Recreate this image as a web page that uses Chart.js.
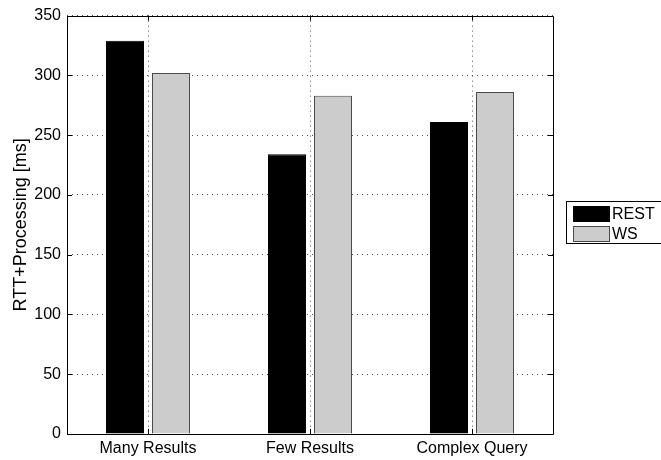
<!DOCTYPE html>
<html>
<head>
<meta charset="utf-8">
<script src="https://cdn.jsdelivr.net/npm/chart.js@4/dist/chart.umd.min.js"></script>
<style>
  html, body { margin: 0; padding: 0; background: #fff; }
  #wrap { width: 661px; height: 460px; }
</style>
</head>
<body>
<div id="wrap"><canvas id="rttChart" width="661" height="460"></canvas></div>
<script>
const categories = ["Many Results", "Few Results", "Complex Query"];
const restValues = [329, 234, 261];
const wsValues = [302, 283, 286];
const yTicks = [0, 50, 100, 150, 200, 250, 300, 350];

const FONT = "'Liberation Sans', Arial, Helvetica, sans-serif";

// box round the plot + matlab style inward ticks on all four sides
const boxTicks = {
    id: "boxTicks",
    afterDraw(chart) {
        const ctx = chart.ctx;
        const a = chart.chartArea;
        const x = chart.scales.x;
        const y = chart.scales.y;
        const len = 5;
        ctx.save();
        ctx.strokeStyle = "#000";
        ctx.lineWidth = 1;
        ctx.beginPath();
        ctx.rect(Math.round(a.left) + 0.5, Math.round(a.top) + 0.5,
            Math.round(a.right - a.left), Math.round(a.bottom - a.top));
        ctx.stroke();
        ctx.beginPath();
        yTicks.forEach(v => {
            const py = Math.round(y.getPixelForValue(v)) + 0.5;
            ctx.moveTo(a.left, py); ctx.lineTo(a.left + len, py);
            ctx.moveTo(a.right, py); ctx.lineTo(a.right - len, py);
        });
        categories.forEach((c, i) => {
            const px = Math.round(x.getPixelForValue(i)) + 0.5;
            ctx.moveTo(px, a.bottom); ctx.lineTo(px, a.bottom - len);
            ctx.moveTo(px, a.top); ctx.lineTo(px, a.top + len);
        });
        ctx.stroke();
        ctx.restore();
    }
};

// legend outside the axes, with a frame like matlab
const boxLegend = {
    id: "boxLegend",
    afterDraw(chart) {
        const ctx = chart.ctx;
        const left = 566, top = 201, rowH = 20;
        ctx.save();
        ctx.fillStyle = "#fff";
        ctx.fillRect(left, top, 110, 42);
        ctx.strokeStyle = "#000";
        ctx.lineWidth = 1;
        ctx.strokeRect(left + 0.5, top + 0.5, 110, 42);
        ctx.font = "16px " + FONT;
        ctx.textBaseline = "middle";
        chart.data.datasets.forEach((ds, i) => {
            const sy = top + 5 + i * rowH;
            ctx.fillStyle = ds.backgroundColor;
            ctx.fillRect(573, sy, 36, 15);
            ctx.strokeStyle = ds.borderColor;
            ctx.strokeRect(573.5, sy + 0.5, 36, 15);
            ctx.fillStyle = "#000";
            ctx.fillText(ds.label, 612, sy + 8.5);
        });
        ctx.restore();
    }
};

const canvas = document.querySelector("#rttChart");

const chart = new Chart(canvas, {
    type: "bar",
    data: {
        labels: categories,
        datasets: [{
            label: "REST",
            data: restValues,
            backgroundColor: "#000000",
            borderColor: "#000000",
            borderWidth: 1
        }, {
            label: "WS",
            data: wsValues,
            backgroundColor: "#cccccc",
            borderColor: "#4a4a4a",
            borderWidth: 1
        }]
    },
    options: {
        responsive: false,
        animation: false,
        devicePixelRatio: 1,
        categoryPercentage: 0.568,
        barPercentage: 0.826,
        layout: { padding: { top: 14, right: 108, left: 0, bottom: 0 } },
        plugins: {
            legend: { display: false },
            tooltip: { enabled: false }
        },
        scales: {
            x: {
                grid: { offset: false, color: "#555", drawTicks: false },
                border: { display: false, dash: [1, 4] },
                ticks: { color: "#000", font: { family: FONT, size: 16 }, padding: 5 },
                afterFit: s => { s.height = 26; }
            },
            y: {
                min: 0,
                max: 350,
                afterBuildTicks: s => { s.ticks = yTicks.map(v => ({ value: v })); },
                grid: { color: "#555", drawTicks: false },
                border: { display: false, dash: [1, 4] },
                ticks: { color: "#000", font: { family: FONT, size: 16 }, padding: 6 },
                title: {
                    display: true,
                    text: "RTT+Processing [ms]",
                    color: "#000",
                    font: { family: FONT, size: 18 },
                    padding: { top: 10, bottom: 0 }
                },
                afterFit: s => { s.width = 67; }
            }
        }
    },
    plugins: [boxTicks, boxLegend]
});
</script>
</body>
</html>
